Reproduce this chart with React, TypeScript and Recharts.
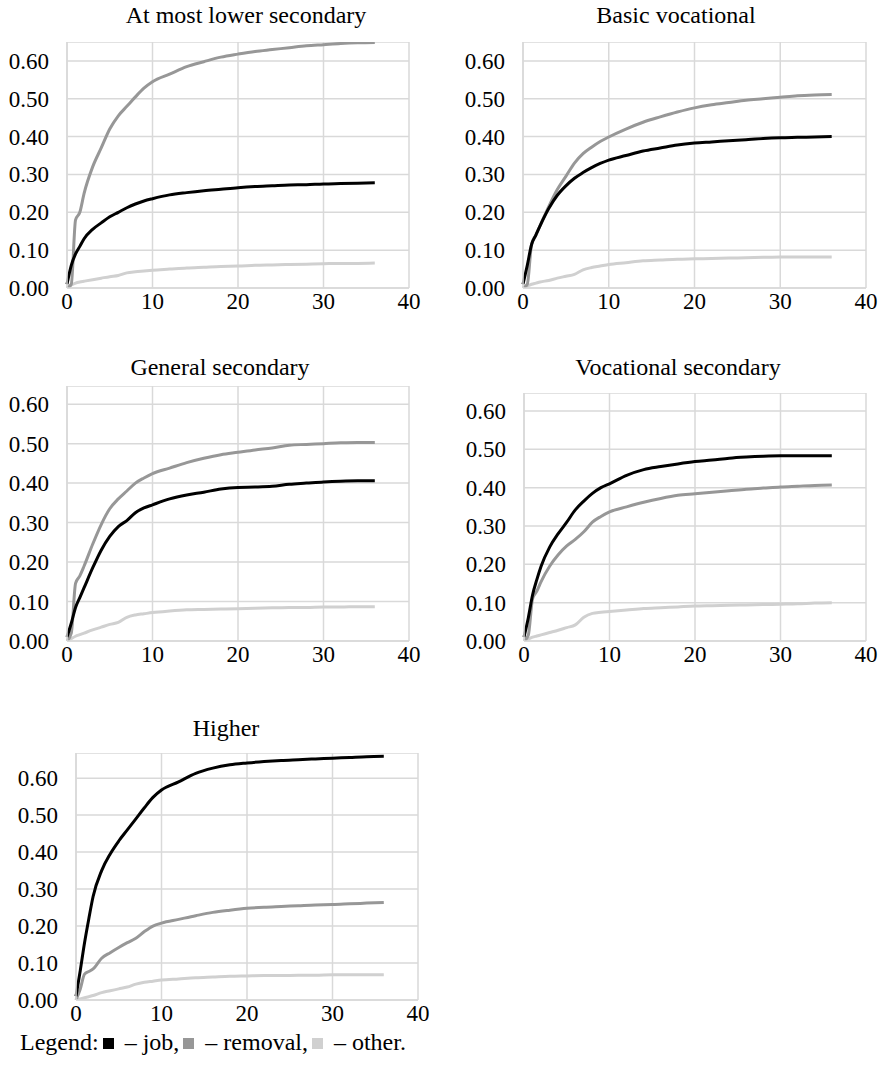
import React from "react";
import { LineChart, Line, XAxis, YAxis, CartesianGrid } from "recharts";

// months since start, shared by every panel
const months = [0, 0.5, 1, 1.5, 2, 3, 4, 5, 6, 7, 8, 9, 10, 12, 14, 16, 18, 20, 22, 24, 26, 28, 30, 32, 34, 36];

const xTicks = [0, 10, 20, 30, 40];
const yTicks = [0, 0.1, 0.2, 0.3, 0.4, 0.5, 0.6];

// At most lower secondary
const lowerJob = [0.01, 0.06, 0.09, 0.11, 0.13, 0.155, 0.172, 0.188, 0.2, 0.212, 0.222, 0.23, 0.236, 0.246, 0.252, 0.257, 0.261, 0.265, 0.268, 0.27, 0.272, 0.273, 0.275, 0.276, 0.277, 0.278];
const lowerRemoval = [0, 0.01, 0.18, 0.2, 0.25, 0.32, 0.37, 0.42, 0.455, 0.48, 0.505, 0.528, 0.545, 0.565, 0.585, 0.598, 0.61, 0.618, 0.625, 0.63, 0.635, 0.64, 0.643, 0.646, 0.648, 0.649];
const lowerOther = [0, 0.008, 0.013, 0.016, 0.018, 0.022, 0.026, 0.03, 0.033, 0.04, 0.043, 0.045, 0.047, 0.05, 0.053, 0.055, 0.057, 0.058, 0.06, 0.061, 0.062, 0.063, 0.064, 0.065, 0.065, 0.066];

// Basic vocational
const basicJob = [0.01, 0.06, 0.115, 0.14, 0.165, 0.21, 0.245, 0.27, 0.29, 0.305, 0.318, 0.329, 0.338, 0.35, 0.362, 0.37, 0.378, 0.383, 0.386, 0.389, 0.392, 0.395, 0.397, 0.398, 0.399, 0.4];
const basicRemoval = [0, 0.01, 0.115, 0.14, 0.165, 0.215, 0.26, 0.295, 0.33, 0.355, 0.372, 0.387, 0.399, 0.42, 0.438, 0.452, 0.465, 0.476, 0.484, 0.49, 0.496, 0.5, 0.504, 0.508, 0.51, 0.511];
const basicOther = [0, 0.005, 0.01, 0.013, 0.016, 0.02, 0.026, 0.031, 0.036, 0.048, 0.054, 0.058, 0.062, 0.067, 0.072, 0.074, 0.076, 0.077, 0.078, 0.079, 0.08, 0.081, 0.082, 0.082, 0.082, 0.082];

// General secondary
const generalJob = [0.01, 0.045, 0.085, 0.11, 0.135, 0.185, 0.23, 0.265, 0.29, 0.305, 0.325, 0.337, 0.345, 0.36, 0.37, 0.377, 0.385, 0.389, 0.39, 0.392, 0.397, 0.4, 0.403, 0.405, 0.406, 0.406];
const generalRemoval = [0, 0.02, 0.146, 0.165, 0.19, 0.245, 0.295, 0.335, 0.36, 0.38, 0.4, 0.413, 0.424, 0.438, 0.452, 0.463, 0.472, 0.478, 0.484, 0.489, 0.496, 0.498, 0.5, 0.502, 0.503, 0.503];
const generalOther = [0, 0.006, 0.012, 0.016, 0.02, 0.028, 0.035, 0.042, 0.047, 0.06, 0.066, 0.069, 0.072, 0.076, 0.079, 0.08, 0.081, 0.082, 0.083, 0.084, 0.085, 0.085, 0.086, 0.086, 0.087, 0.087];

// Vocational secondary
const vocJob = [0.01, 0.06, 0.12, 0.16, 0.195, 0.245, 0.28, 0.31, 0.342, 0.365, 0.385, 0.4, 0.41, 0.432, 0.447, 0.455, 0.462, 0.468, 0.472, 0.477, 0.48, 0.482, 0.483, 0.483, 0.483, 0.483];
const vocRemoval = [0, 0.015, 0.11, 0.13, 0.155, 0.195, 0.225, 0.248, 0.265, 0.285, 0.31, 0.325, 0.337, 0.35, 0.362, 0.372, 0.38, 0.384, 0.388, 0.392, 0.396, 0.399, 0.402, 0.404, 0.406, 0.407];
const vocOther = [0, 0.005, 0.01, 0.013, 0.016, 0.022, 0.028, 0.035, 0.042, 0.062, 0.072, 0.075, 0.077, 0.081, 0.085, 0.087, 0.089, 0.091, 0.092, 0.093, 0.094, 0.095, 0.096, 0.097, 0.099, 0.1];

// Higher
const higherJob = [0.01, 0.08, 0.155, 0.22, 0.28, 0.35, 0.395, 0.43, 0.46, 0.49, 0.52, 0.548, 0.568, 0.59, 0.613, 0.627, 0.636, 0.641, 0.645, 0.648, 0.65, 0.652, 0.654, 0.656, 0.658, 0.659];
const higherRemoval = [0, 0.03, 0.07, 0.077, 0.084, 0.113, 0.128, 0.142, 0.155, 0.167, 0.185, 0.2, 0.208, 0.218, 0.228, 0.237, 0.243, 0.248, 0.251, 0.253, 0.255, 0.257, 0.258, 0.26, 0.262, 0.264];
const higherOther = [0, 0.003, 0.006, 0.009, 0.012, 0.02, 0.025, 0.03, 0.035, 0.043, 0.048, 0.051, 0.054, 0.057, 0.06, 0.062, 0.064, 0.065, 0.066, 0.066, 0.067, 0.067, 0.068, 0.068, 0.068, 0.068];

const JOB = "#000000";
const REMOVAL = "#979797";
const OTHER = "#d0d0d0";
const GRID = "#d9d9d9";
const FONT = "Liberation Serif, Times New Roman, serif";

const build = (job: number[], removal: number[], other: number[]) =>
  months.map((m, i) => ({ month: m, job: job[i], removal: removal[i], other: other[i] }));

type PanelProps = {
  title: string;
  data: { month: number; job: number; removal: number; other: number }[];
  left: number; // plot area edges, page px
  right: number;
  top: number;
  bottom: number;
  yMax: number;
  titleX: number;
  titleY: number;
};

const YW = 67;
const XH = 40;
const MR = 30;

// custom ticks so the serif font is applied for sure
const XTick = (p: any) => (
  <text x={p.x} y={p.y} dy={16} textAnchor="middle" fill="#000" style={{ fontFamily: FONT, fontSize: 23 }}>
    {p.payload.value}
  </text>
);
const YTick = (p: any) => (
  <text x={p.x} y={p.y} dy={8} textAnchor="end" fill="#000" style={{ fontFamily: FONT, fontSize: 23 }}>
    {Number(p.payload.value).toFixed(2)}
  </text>
);

function Panel({ title, data, left, right, top, bottom, yMax, titleX, titleY }: PanelProps) {
  const w = right - left + YW + MR;
  const h = bottom - top + XH;
  return (
    <>
      <div
        style={{
          position: "absolute",
          left: titleX,
          top: titleY - 12,
          transform: "translateX(-50%)",
          whiteSpace: "nowrap",
          fontSize: 24,
          lineHeight: "24px",
          color: "#000",
        }}
      >
        {title}
      </div>
      <div style={{ position: "absolute", left: left - YW, top }}>
        <LineChart width={w} height={h} data={data} margin={{ top: 0, right: MR, left: 0, bottom: 0 }}>
          <CartesianGrid stroke={GRID} strokeWidth={1.5} />
          <XAxis
            type="number"
            dataKey="month"
            domain={[0, 40]}
            ticks={xTicks}
            height={XH}
            tickLine={false}
            tickSize={0}
            tickMargin={5}
            axisLine={{ stroke: GRID, strokeWidth: 1.5 }}
            tick={XTick}
          />
          <YAxis
            type="number"
            domain={[0, yMax]}
            ticks={yTicks}
            width={YW}
            tickLine={false}
            tickSize={0}
            tickMargin={18}
            axisLine={{ stroke: GRID, strokeWidth: 1.5 }}
            tick={YTick}
            allowDataOverflow
          />
          <Line type="monotone" dataKey="other" stroke={OTHER} strokeWidth={3} dot={false} isAnimationActive={false} />
          <Line type="monotone" dataKey="removal" stroke={REMOVAL} strokeWidth={3} dot={false} isAnimationActive={false} />
          <Line type="monotone" dataKey="job" stroke={JOB} strokeWidth={3} dot={false} isAnimationActive={false} />
        </LineChart>
      </div>
    </>
  );
}

const sq = (c: string) => (
  <span style={{ display: "inline-block", width: 11, height: 11, background: c, margin: "0 5px 0 4px", verticalAlign: "1px" }} />
);

export default function App() {
  return (
    <div style={{ position: "absolute", left: 0, top: 0, width: 884, height: 1072, background: "#fff", fontFamily: FONT }}>
      <Panel title="At most lower secondary" data={build(lowerJob, lowerRemoval, lowerOther)}
        left={67} right={409} top={42} bottom={288} yMax={0.65} titleX={246} titleY={15} />
      <Panel title="Basic vocational" data={build(basicJob, basicRemoval, basicOther)}
        left={523} right={866} top={42} bottom={288} yMax={0.65} titleX={676} titleY={15} />
      <Panel title="General secondary" data={build(generalJob, generalRemoval, generalOther)}
        left={67} right={409} top={386} bottom={641} yMax={0.646} titleX={220} titleY={367} />
      <Panel title="Vocational secondary" data={build(vocJob, vocRemoval, vocOther)}
        left={524} right={866} top={393} bottom={641} yMax={0.647} titleX={678} titleY={367} />
      <Panel title="Higher" data={build(higherJob, higherRemoval, higherOther)}
        left={76} right={418} top={753} bottom={1000} yMax={0.668} titleX={226} titleY={728} />
      <div
        style={{
          position: "absolute",
          left: 20,
          top: 1031,
          fontSize: 24,
          lineHeight: "22px",
          whiteSpace: "nowrap",
          color: "#000",
        }}
      >
        Legend:{sq(JOB)} – job,{sq(REMOVAL)} – removal,{sq(OTHER)} – other.
      </div>
    </div>
  );
}
